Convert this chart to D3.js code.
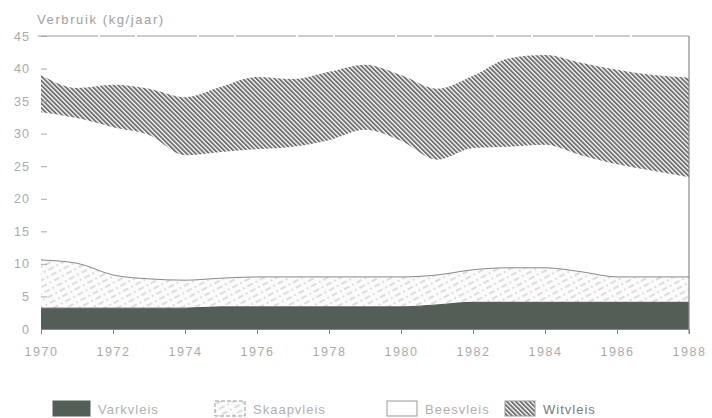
<!DOCTYPE html>
<html><head><meta charset="utf-8">
<script src="https://cdn.jsdelivr.net/npm/d3@7"></script>
<style>
html,body{margin:0;padding:0;background:#fff;}
text{font-family:"Liberation Sans",Arial,sans-serif;}
</style></head>
<body>
<svg id="c" width="712" height="418"></svg>
<script>
const years = [1970,1971,1972,1973,1974,1975,1976,1977,1978,1979,1980,1981,1982,1983,1984,1985,1986,1987,1988];
const varkvleis  = [3.2,3.2,3.2,3.2,3.2,3.4,3.4,3.4,3.4,3.4,3.4,3.7,4.1,4.1,4.1,4.1,4.1,4.1,4.1];
const skaapvleis = [7.4,6.9,5.1,4.5,4.3,4.4,4.6,4.6,4.6,4.6,4.6,4.6,5.0,5.3,5.3,4.7,3.9,3.9,3.9];
const beesvleis  = [22.7,22.3,22.7,22.1,19.2,19.4,19.6,20.0,21.0,22.6,20.9,17.7,18.7,18.6,18.9,17.9,17.3,16.3,15.3];
const witvleis   = [5.7,4.6,6.5,7.1,8.9,10.0,11.1,10.4,10.5,10.0,10.1,10.9,11.1,13.6,13.8,14.2,14.5,14.7,15.3];
const seriesNames = ["Varkvleis","Skaapvleis","Beesvleis","Witvleis"];
const yTicks = [0,5,10,15,20,25,30,35,40,45];
const xTicks = [1970,1972,1974,1976,1978,1980,1982,1984,1986,1988];
const yTitle = "Verbruik (kg/jaar)";

(function(){
const svg = d3.select("#c");
const mLeft = 41, mRight = 689, mTop = 36, mBottom = 329;
const x = d3.scaleLinear().domain([1970,1988]).range([mLeft,mRight]);
const y = d3.scaleLinear().domain([0,45]).range([mBottom,mTop]);

const defs = svg.append("defs");
const pw = defs.append("pattern").attr("id","wit").attr("patternUnits","userSpaceOnUse")
  .attr("width",3.2).attr("height",3.2).attr("patternTransform","rotate(-45)");
pw.append("rect").attr("width",3.2).attr("height",3.2).attr("fill","#fff");
pw.append("rect").attr("width",1.9).attr("height",3.2).attr("fill","#6f6f6f");
const ps = defs.append("pattern").attr("id","skaap").attr("patternUnits","userSpaceOnUse")
  .attr("width",14).attr("height",6).attr("patternTransform","rotate(-28)");
ps.append("rect").attr("width",14).attr("height",6).attr("fill","#fbfbfb");
ps.append("line").attr("x1",0).attr("x2",14).attr("y1",3).attr("y2",3)
  .attr("stroke","#b8b8b8").attr("stroke-width",0.9).attr("stroke-dasharray","6 3 2 3");

const data = years.map((yr,i)=>({year:yr,Varkvleis:varkvleis[i],Skaapvleis:skaapvleis[i],Beesvleis:beesvleis[i],Witvleis:witvleis[i]}));
const stack = d3.stack().keys(seriesNames)(data);
const fills = {Varkvleis:"#535e57",Skaapvleis:"url(#skaap)",Beesvleis:"#fff",Witvleis:"url(#wit)"};
const area = d3.area().x(d=>x(d.data.year)).y0(d=>y(d[0])).y1(d=>y(d[1])).curve(d3.curveMonotoneX);
const topLine = d3.line().x(d=>x(d.data.year)).y(d=>y(d[1])).curve(d3.curveMonotoneX);

svg.append("g").selectAll("path").data(stack).join("path")
  .attr("d",area).attr("fill",d=>fills[d.key]).attr("stroke","none");
svg.append("path").attr("d",topLine(stack[1])).attr("fill","none").attr("stroke","#8a8a8a").attr("stroke-width",1);
svg.append("path").attr("d",topLine(stack[0])).attr("fill","none").attr("stroke","#4a524c").attr("stroke-width",1);

svg.append("line").attr("x1",mLeft-3).attr("x2",mRight).attr("y1",y(45)).attr("y2",y(45))
  .attr("stroke","#9a9a9a").attr("stroke-width",1.2).attr("stroke-dasharray","60 2 35 2");
svg.append("line").attr("x1",mRight).attr("x2",mRight).attr("y1",y(45)).attr("y2",y(0)+5)
  .attr("stroke","#8a8a8a").attr("stroke-width",1.2);

const ya = svg.append("g").attr("transform",`translate(${mLeft},0)`)
  .call(d3.axisRight(y).tickValues(yTicks).tickSize(6).tickFormat(d3.format("d")));
ya.select(".domain").remove();
ya.selectAll(".tick line").attr("stroke","#aaa");
ya.selectAll(".tick text").attr("x",-11).attr("text-anchor","end").attr("fill","#aaa")
  .attr("font-size",12.5).attr("letter-spacing",1);

const xa = svg.append("g").attr("transform",`translate(0,${mBottom})`)
  .call(d3.axisBottom(x).tickValues(xTicks).tickSize(5).tickFormat(d3.format("d")));
xa.select(".domain").attr("stroke","#888");
xa.selectAll(".tick line").attr("stroke","#888");
xa.selectAll(".tick text").attr("fill","#aaa").attr("font-size",12.5).attr("letter-spacing",1.5).attr("dy","1.5em");

svg.append("text").attr("x",37).attr("y",24).attr("fill","#a0a0a0").attr("font-size",13)
  .attr("letter-spacing",1.6).text(yTitle);

const legX = [53,215,387,505];
const lg = svg.append("g");
seriesNames.forEach((k,i)=>{
  const g = lg.append("g").attr("transform",`translate(${legX[i]},401)`);
  g.append("rect").attr("width",i===0?37:30).attr("height",15).attr("fill",fills[k])
    .attr("stroke",i===0?"#535e57":"#999").attr("stroke-width",1)
    .attr("stroke-dasharray",i===1?"4 2":null);
  g.append("text").attr("x",(i===0?37:30)+8).attr("y",13).attr("font-size",13)
    .attr("letter-spacing",1).attr("fill",i===3?"#7a7a7a":"#b0b0b0").text(k);
});
})();
</script>
</body></html>
